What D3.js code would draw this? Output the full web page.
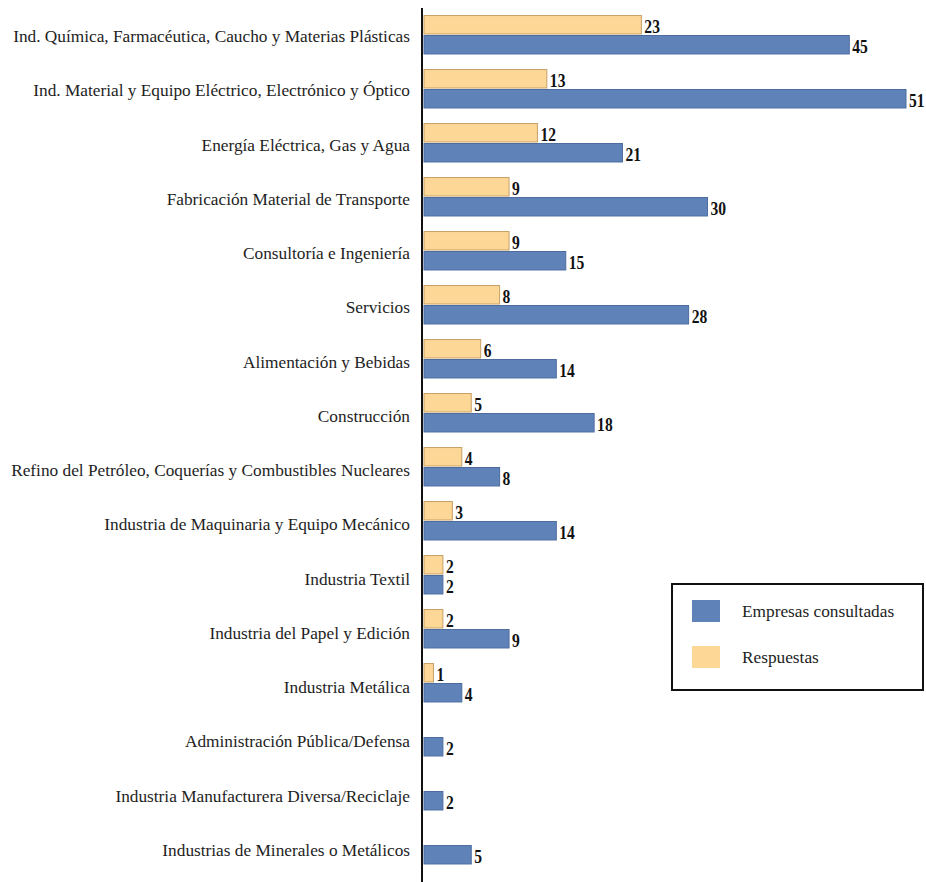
<!DOCTYPE html>
<html>
<head>
<meta charset="utf-8">
<script src="https://cdn.jsdelivr.net/npm/d3@7"></script>
<style>
  body { margin: 0; background: #fff; }
  text { font-family: "Liberation Serif", "Times New Roman", serif; }
</style>
</head>
<body>
<div class="chart"></div>
<script>
// sectors, top to bottom
const sectors = [
  'Ind. Química, Farmacéutica, Caucho y Materias Plásticas',
  'Ind. Material y Equipo Eléctrico, Electrónico y Óptico',
  'Energía Eléctrica, Gas y Agua',
  'Fabricación Material de Transporte',
  'Consultoría e Ingeniería',
  'Servicios',
  'Alimentación y Bebidas',
  'Construcción',
  'Refino del Petróleo, Coquerías y Combustibles Nucleares',
  'Industria de Maquinaria y Equipo Mecánico',
  'Industria Textil',
  'Industria del Papel y Edición',
  'Industria Metálica',
  'Administración Pública/Defensa',
  'Industria Manufacturera Diversa/Reciclaje',
  'Industrias de Minerales o Metálicos'
];
// number of answers and number of companies asked
const respuestas = [23, 13, 12, 9, 9, 8, 6, 5, 4, 3, 2, 2, 1, 0, 0, 0];
const consultadas = [45, 51, 21, 30, 15, 28, 14, 18, 8, 14, 2, 9, 4, 2, 2, 5];

const series = [
  {name: 'Respuestas', values: respuestas, fill: '#fcd796', stroke: '#c8a066'},
  {name: 'Empresas consultadas', values: consultadas, fill: '#5f83b9', stroke: '#4d6d9f'}
];

const width = 926, height = 882;
const svg = d3.select('.chart').append('svg').attr('width', width).attr('height', height);

const x = d3.scaleLinear().domain([0, 51]).range([424, 906]);
const y = d3.scaleBand().domain(sectors).range([8, 872]).paddingInner(0.26).paddingOuter(0.13);
const inner = d3.scaleBand().domain(series.map(s => s.name)).range([0, y.bandwidth()]);
// the scanned labels drift a little lower than the bars towards the bottom
const yLabel = d3.scalePoint().domain(sectors).range([42, 856]);

// category labels
svg.append('g').selectAll('text')
  .data(sectors)
  .join('text')
  .attr('x', 410)
  .attr('y', d => yLabel(d))
  .attr('text-anchor', 'end')
  .attr('font-size', 17.3)
  .attr('fill', '#1e1e1e')
  .text(d => d);

// bars
series.forEach(s => {
  const g = svg.append('g');
  const rows = sectors.map((c, i) => ({c: c, v: s.values[i]})).filter(d => d.v > 0);
  g.selectAll('rect')
    .data(rows)
    .join('rect')
    .attr('x', x(0))
    .attr('y', d => y(d.c) + inner(s.name) + 0.5)
    .attr('width', d => x(d.v) - x(0))
    .attr('height', inner.bandwidth() - 1.5)
    .attr('fill', s.fill)
    .attr('stroke', s.stroke)
    .attr('stroke-width', 1);
  g.selectAll('text')
    .data(rows)
    .join('text')
    .attr('transform', d => `translate(${x(d.v) + 3},${y(d.c) + inner(s.name) + inner.bandwidth() - 2}) scale(0.82,1)`)
    .attr('font-size', 19)
    .attr('font-weight', 'bold')
    .attr('fill', '#111')
    .text(d => d.v);
});

// vertical axis line
svg.append('line')
  .attr('x1', 422).attr('x2', 422)
  .attr('y1', 8).attr('y2', 882)
  .attr('stroke', '#111').attr('stroke-width', 2);

// legend
const legend = svg.append('g').attr('transform', 'translate(672,584)');
legend.append('rect')
  .attr('width', 251).attr('height', 106)
  .attr('fill', '#fff').attr('stroke', '#111').attr('stroke-width', 2);
const leg = [series[1], series[0]];
leg.forEach((s, i) => {
  legend.append('rect')
    .attr('x', 20).attr('y', 16 + i * 46)
    .attr('width', 28).attr('height', 22)
    .attr('fill', s.fill);
  legend.append('text')
    .attr('x', 70).attr('y', 33 + i * 46)
    .attr('font-size', 17.3)
    .attr('fill', '#1e1e1e')
    .text(s.name);
});
</script>
</body>
</html>
